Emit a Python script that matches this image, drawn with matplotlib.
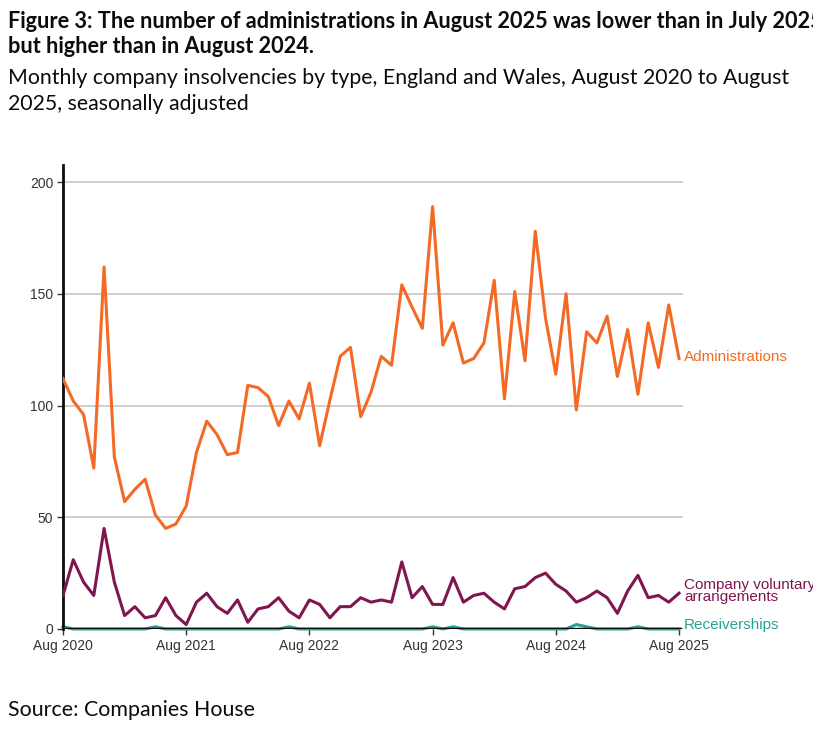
import matplotlib
matplotlib.use("Agg")
import matplotlib.pyplot as plt
import numpy as np

months = list(range(61))
tick_positions = [0, 12, 24, 36, 48, 60]
tick_labels = ["Aug 2020", "Aug 2021", "Aug 2022", "Aug 2023", "Aug 2024", "Aug 2025"]

administrations = [112, 102, 96, 72, 162, 77, 57, 62.5, 67, 51, 45, 47, 55,
                   79, 93, 87, 78, 79, 109, 108, 104, 91, 102, 94, 110,
                   82, 102.5, 122, 126, 95, 106, 122, 118, 154, 144, 134.5, 189,
                   127, 137, 119, 121, 128, 156, 103, 151, 120, 178, 139, 114,
                   150, 98, 133, 128, 140, 113, 134, 105, 137, 117, 145, 121]
cva = [15, 31, 21, 15, 45, 21, 6, 10, 5, 6, 14, 6, 2,
       12, 16, 10, 7, 13, 3, 9, 10, 14, 8, 5, 13,
       11, 5, 10, 10, 14, 12, 13, 12, 30, 14, 19, 11,
       11, 23, 12, 15, 16, 12, 9, 18, 19, 23, 25, 20,
       17, 12, 14, 17, 14, 7, 17, 24, 14, 15, 12, 16]
receiverships = [1, 0, 0, 0, 0, 0, 0, 0, 0, 1, 0, 0, 0,
                 0, 0, 0, 0, 0, 0, 0, 0, 0, 1, 0, 0,
                 0, 0, 0, 0, 0, 0, 0, 0, 0, 0, 0, 1,
                 0, 1, 0, 0, 0, 0, 0, 0, 0, 0, 0, 0,
                 0, 2, 1, 0, 0, 0, 0, 1, 0, 0, 0, 0]

c_adm = "#F46A25"
c_cva = "#801650"
c_rec = "#28A197"

fig = plt.figure(figsize=(8.13, 7.29), dpi=100)
W, H = 813, 729
left, right, bottom, top = 63, 683, 629, 165
ax = fig.add_axes([left / W, 1 - bottom / H, (right - left) / W, (bottom - top) / H])

ax.plot(months, receiverships, color=c_rec, lw=2.2, zorder=2, clip_on=False)
ax.plot(months, cva, color=c_cva, lw=2.2, zorder=3)
ax.plot(months, administrations, color=c_adm, lw=2.2, zorder=3)

ax.set_xlim(0, 60 + 4 / 10.27)
ax.set_ylim(0, (bottom - top) / 2.235)
ax.set_yticks([0, 50, 100, 150, 200])
ax.grid(axis="y", color="#cccccc", lw=1.3, zorder=0)
ax.set_axisbelow(True)
ax.axhline(0, color="#0b0c0c", lw=2.5, zorder=4, xmin=0, xmax=1 - 4 / 10.27 / (60 + 4 / 10.27) + 0.002)

for s in ["top", "right", "bottom"]:
    ax.spines[s].set_visible(False)
ax.spines["left"].set_color("#0b0c0c")
ax.spines["left"].set_linewidth(2)

ax.set_xticks(tick_positions)
ax.set_xticklabels(tick_labels)
ax.tick_params(axis="x", length=4, width=1, color="#333333", labelsize=10, labelcolor="#333333", pad=3)
ax.tick_params(axis="y", length=4, width=1, color="#333333", labelsize=10, labelcolor="#333333", pad=3)
for lab in ax.get_xticklabels() + ax.get_yticklabels():
    lab.set_fontfamily("Liberation Sans")

# series labels
xt = 60 + 5 / 10.27
ax.text(xt, administrations[-1] + 0.5, "Administrations", color=c_adm, fontsize=11,
        va="center", ha="left", family="Liberation Sans", clip_on=False)
ax.text(xt, cva[-1] + 1, "Company voluntary\narrangements", color=c_cva, fontsize=11,
        va="center", ha="left", family="Liberation Sans", linespacing=0.8, clip_on=False)
ax.text(xt, 2, "Receiverships", color=c_rec, fontsize=11,
        va="center", ha="left", family="Liberation Sans", clip_on=False)

fig.text(8 / W, 1 - 11 / H,
         "Figure 3: The number of administrations in August 2025 was lower than in July 2025\nbut higher than in August 2024.",
         fontsize=15.6, fontweight="bold", family="Lato", va="top", ha="left",
         color="#0b0c0c", linespacing=1.25)
fig.text(8 / W, 1 - 68 / H,
         "Monthly company insolvencies by type, England and Wales, August 2020 to August\n2025, seasonally adjusted",
         fontsize=15.3, family="Lato", va="top", ha="left", color="#0b0c0c", linespacing=1.4)
fig.text(8 / W, 1 - 710 / H, "Source: Companies House", fontsize=15.4, family="Lato",
         va="center", ha="left", color="#0b0c0c")

fig.savefig("out.png", dpi=100)
